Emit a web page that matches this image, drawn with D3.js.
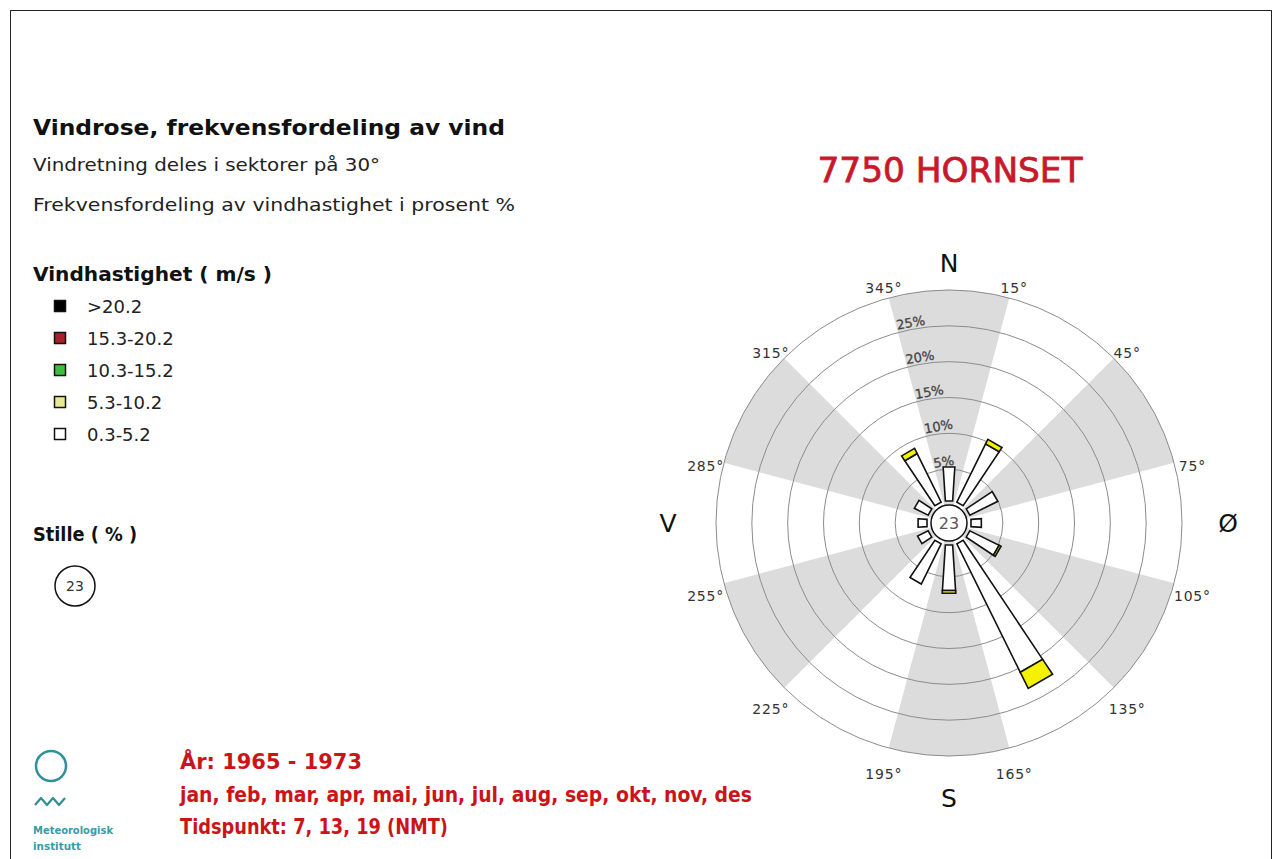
<!DOCTYPE html>
<html>
<head>
<meta charset="utf-8">
<script src="https://cdn.jsdelivr.net/npm/d3@7"></script>
<style>
  body { margin: 0; background: #fff; }
  svg { display: block; }
</style>
</head>
<body>
<div id="chart"></div>
<script>
// ---------------------------------------------------------
// DATA
// ---------------------------------------------------------
const directions   = [0, 30, 60, 90, 120, 150, 180, 210, 240, 270, 300, 330];
const speedClasses = ["0.3-5.2", "5.3-10.2", "10.3-15.2", "15.3-20.2", ">20.2"];
const freq_03_52   = [5.3, 9.6, 4.9, 2.0, 5.1, 20.5, 6.9, 6.8, 2.2, 1.8, 2.7, 8.1];
const freq_53_102  = [0.0, 0.7, 0.0, 0.0, 0.3, 2.5, 0.4, 0.0, 0.0, 0.0, 0.0, 0.8];
const freq_103_152 = [0, 0, 0, 0, 0, 0, 0, 0, 0, 0, 0, 0];
const freq_153_202 = [0, 0, 0, 0, 0, 0, 0, 0, 0, 0, 0, 0];
const freq_gt202   = [0, 0, 0, 0, 0, 0, 0, 0, 0, 0, 0, 0];
const calmPct      = 23;
const ringTicks    = [5, 10, 15, 20, 25];
const sectorEdges  = [15, 45, 75, 105, 135, 165, 195, 225, 255, 285, 315, 345];
const compassNames = ["N", "Ø", "S", "V"];
const compassAngle = [0, 90, 180, 270];
const periodLines  = ["År: 1965 - 1973",
                      "jan, feb, mar, apr, mai, jun, jul, aug, sep, okt, nov, des",
                      "Tidspunkt: 7, 13, 19 (NMT)"];

(function () {

  const series = [freq_03_52, freq_53_102, freq_103_152, freq_153_202, freq_gt202];
  const barColors    = ["#ffffff", "#f4f200", "#33bb33", "#a8202a", "#000000"];
  const legendColors = ["#ffffff", "#e9e894", "#3cbf3c", "#a8202a", "#000000"];
  const FONT = "'DejaVu Sans', Verdana, sans-serif";
  const NARROW = "'Liberation Sans Narrow', 'DejaVu Sans Condensed', 'Liberation Sans', sans-serif";

  const width = 1282, height = 859;
  const svg = d3.select("#chart").append("svg")
      .attr("width", width)
      .attr("height", height)
      .style("font-family", FONT);

  // frame
  svg.append("rect")
      .attr("x", 10.5).attr("y", 10.5)
      .attr("width", 1261).attr("height", 880)
      .attr("fill", "none")
      .attr("stroke", "#222");

  function label(x, y, s, size, opts = {}) {
    const t = svg.append("text")
        .attr("x", x).attr("y", y)
        .attr("font-size", size)
        .attr("fill", opts.fill || "#111")
        .attr("font-weight", opts.bold ? "bold" : "normal")
        .text(s);
    if (opts.family) t.attr("font-family", opts.family);
    if (opts.anchor) t.attr("text-anchor", opts.anchor);
    if (opts.len) t.attr("textLength", opts.len).attr("lengthAdjust", "spacingAndGlyphs");
    if (opts.thick) t.attr("stroke", opts.fill).attr("stroke-width", opts.thick);
    return t;
  }

  // ---------------------------------------------------------
  // LEFT TEXT BLOCK
  // ---------------------------------------------------------
  label(33, 135, "Vindrose, frekvensfordeling av vind", 22, { bold: true, len: 472 });
  label(33, 171, "Vindretning deles i sektorer på 30°", 18, { fill: "#222", len: 347 });
  label(33, 211, "Frekvensfordeling av vindhastighet i prosent %", 18, { fill: "#222", len: 482 });
  label(33, 281, "Vindhastighet ( m/s )", 19, { bold: true, len: 239 });

  // legend, top row is the strongest class
  const legendOrder = d3.range(speedClasses.length).reverse();
  const yLegend = d3.scalePoint().domain(legendOrder).range([306, 434]);
  legendOrder.forEach(k => {
    svg.append("rect")
        .attr("x", 54.5).attr("y", yLegend(k) - 5.5)
        .attr("width", 11).attr("height", 11)
        .attr("fill", legendColors[k])
        .attr("stroke", "#111")
        .attr("stroke-width", 1.5);
    label(87, yLegend(k) + 7, speedClasses[k], 18, { fill: "#222" });
  });

  label(33, 541, "Stille ( % )", 19, { bold: true, len: 104 });
  svg.append("circle")
      .attr("cx", 75).attr("cy", 586).attr("r", 20)
      .attr("fill", "#fff").attr("stroke", "#111").attr("stroke-width", 1.5);
  label(75, 591, calmPct, 14, { fill: "#333", anchor: "middle" });

  // logo
  const teal = "#2f8f9a";
  svg.append("circle")
      .attr("cx", 51).attr("cy", 766).attr("r", 15)
      .attr("fill", "none").attr("stroke", teal).attr("stroke-width", 2.5);
  svg.append("path")
      .attr("d", "M35,805 L41,798 L47,805 L53,798 L59,805 L65,798")
      .attr("fill", "none").attr("stroke", teal).attr("stroke-width", 2.2)
      .attr("stroke-linejoin", "round");
  label(33, 834, "Meteorologisk", 11, { fill: "#3a9aa6", bold: true, len: 80 });
  label(33, 850, "institutt", 11, { fill: "#3a9aa6", bold: true, len: 48 });

  // period text
  const periodLens = [182, 572, 268];
  periodLines.forEach((s, i) => {
    label(180, 769 + i * 32.5, s, 22, { family: NARROW, bold: true, fill: "#cc1418", len: periodLens[i] });
  });

  // station title
  label(950, 182, "7750 HORNSET", 34, { fill: "#c8192b", anchor: "middle", len: 265, thick: 0.8 });

  // ---------------------------------------------------------
  // WIND ROSE
  // ---------------------------------------------------------
  const cx = 949, cy = 523;
  const r = d3.scaleLinear().domain([0, 30]).range([18, 233]);
  const rad = deg => deg * Math.PI / 180;
  const rose = svg.append("g").attr("transform", `translate(${cx},${cy})`);

  const arc = d3.arc();
  directions.forEach((d, i) => {
    if (i % 2 !== 0) return;
    rose.append("path")
        .attr("d", arc({ innerRadius: 0, outerRadius: r(30),
                         startAngle: rad(d - 15), endAngle: rad(d + 15) }))
        .attr("fill", "#dcdcdc");
  });

  ringTicks.concat([30]).forEach(t => {
    rose.append("circle")
        .attr("r", r(t))
        .attr("fill", "none")
        .attr("stroke", "#8c8c8c")
        .attr("stroke-width", 1);
  });

  // bars: narrow trapezoids, stacked by speed class
  const halfW = q => 2.2 + 0.065 * q;
  function barPath(deg, r1, r2) {
    const a = rad(deg), s = Math.sin(a), c = Math.cos(a);
    const pt = (q, side) => [q * s + side * halfW(q) * c, -q * c + side * halfW(q) * s];
    return "M" + [pt(r1, -1), pt(r2, -1), pt(r2, 1), pt(r1, 1)].map(p => p.join(",")).join("L") + "Z";
  }
  const rStart = r(0) + 4;
  directions.forEach((d, i) => {
    let cum = 0;
    series.forEach((vals, k) => {
      const v = vals[i];
      if (!v) return;
      const r1 = cum === 0 ? rStart : r(cum);
      cum += v;
      rose.append("path")
          .attr("d", barPath(d, r1, r(cum)))
          .attr("fill", barColors[k])
          .attr("stroke", "#111")
          .attr("stroke-width", 1.6)
          .attr("stroke-linejoin", "miter");
    });
  });

  // calm circle
  rose.append("circle")
      .attr("r", r(0))
      .attr("fill", "#fff")
      .attr("stroke", "#111")
      .attr("stroke-width", 1.5);
  rose.append("text")
      .attr("y", 6)
      .attr("text-anchor", "middle")
      .attr("font-size", 16)
      .attr("fill", "#555")
      .text(calmPct);

  // ring labels
  ringTicks.forEach(t => {
    const a = rad(-15), q = r(t) + 3;
    const x = q * Math.sin(a), y = -q * Math.cos(a);
    rose.append("text")
        .attr("x", x).attr("y", y)
        .attr("transform", `rotate(-10,${x},${y})`)
        .attr("font-size", 13)
        .attr("fill", "#444")
        .attr("stroke", "#444")
        .attr("stroke-width", 0.3)
        .text(t + "%");
  });

  // sector edge labels
  sectorEdges.forEach(d => {
    const a = rad(d), q = 252;
    rose.append("text")
        .attr("x", q * Math.sin(a))
        .attr("y", -q * Math.cos(a) + 8)
        .attr("dy", "0.35em")
        .attr("text-anchor", "middle")
        .attr("font-size", 14)
        .attr("letter-spacing", 0.8)
        .attr("fill", "#333")
        .text(d + "°");
  });

  // compass letters
  const compassDist = [260, 279, 275, 281];
  compassNames.forEach((n, i) => {
    const a = rad(compassAngle[i]), q = compassDist[i];
    rose.append("text")
        .attr("x", q * Math.sin(a))
        .attr("y", -q * Math.cos(a))
        .attr("dy", "0.36em")
        .attr("text-anchor", "middle")
        .attr("font-size", 25)
        .attr("fill", "#111")
        .text(n);
  });

})();
</script>
</body>
</html>
